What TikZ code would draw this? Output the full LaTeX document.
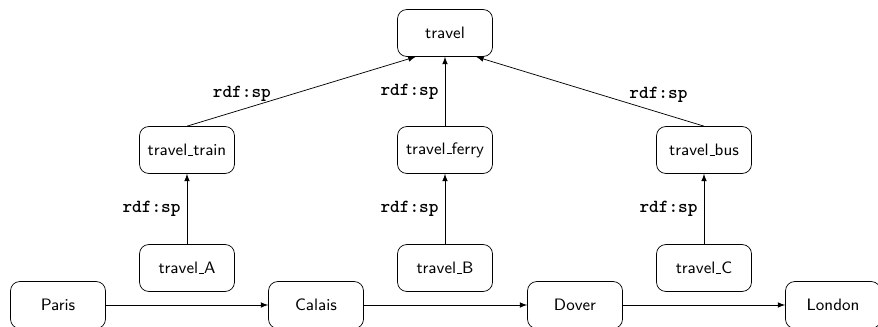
\documentclass[tikz,border=0pt]{standalone}
\newcommand{\usc}{\leavevmode\kern.06em\vbox{\hrule width .3em}}
\begin{document}
\begin{tikzpicture}[x=0.5435pt,y=0.5435pt,>=latex,
    box/.style={draw,rounded corners=5pt,minimum width=51.6pt,minimum height=25.5pt,font=\sffamily\small},
    lbl/.style={font=\ttfamily\bfseries}]
    \useasboundingbox (0,0) rectangle (878,326);
    \node[box] (travel) at (445,293) {travel};
    \node[box] (ttrain) at (187,176) {travel\usc train};
    \node[box] (tferry) at (445,176) {travel\usc ferry};
    \node[box] (tbus) at (704,176) {travel\usc bus};
    \node[box] (ta) at (187,58) {travel\usc A};
    \node[box] (tb) at (445,58) {travel\usc B};
    \node[box] (tc) at (704,58) {travel\usc C};
    \node[box] (paris) at (58,21) {Paris};
    \node[box] (calais) at (316,21) {Calais};
    \node[box] (dover) at (575,21) {Dover};
    \node[box] (london) at (833,21) {London};
    \draw[->] (ttrain.north) -- ([xshift=-16pt]travel.south) node[lbl,pos=0.24,above=1pt] {rdf:sp};
    \draw[->] (tferry.north) -- (travel.south) node[lbl,midway,left] {rdf:sp};
    \draw[->] (tbus.north) -- ([xshift=17pt]travel.south) node[lbl,pos=0.2,above=2pt] {rdf:sp};
    \draw[->] (ta) -- (ttrain) node[lbl,midway,left] {rdf:sp};
    \draw[->] (tb) -- (tferry) node[lbl,midway,left] {rdf:sp};
    \draw[->] (tc) -- (tbus) node[lbl,midway,left] {rdf:sp};
    \draw[->] (paris) -- (calais);
    \draw[->] (calais) -- (dover);
    \draw[->] (dover) -- (london);
\end{tikzpicture}
\end{document}
